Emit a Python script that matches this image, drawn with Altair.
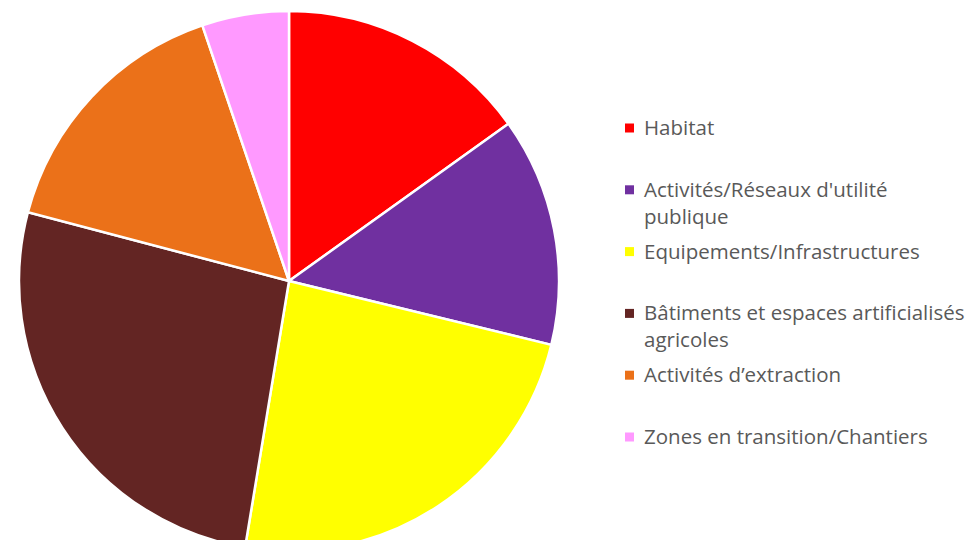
import altair as alt
import pandas as pd

categories = [
    "Habitat",
    "Activités/Réseaux d'utilité publique",
    "Equipements/Infrastructures",
    "Bâtiments et espaces artificialisés agricoles",
    "Activités d’extraction",
    "Zones en transition/Chantiers",
]
legend_labels = [
    "Habitat",
    "Activités/Réseaux d'utilité\npublique",
    "Equipements/Infrastructures",
    "Bâtiments et espaces artificialisés\nagricoles",
    "Activités d’extraction",
    "Zones en transition/Chantiers",
]
shares = [15.1, 13.7, 23.8, 26.5, 15.7, 5.2]
colors = ["#FF0000", "#7030A0", "#FFFF00", "#632523", "#EB7119", "#FF99FF"]

df = pd.DataFrame({
    "cat": categories,
    "label": legend_labels,
    "share": shares,
    "idx": list(range(len(categories))),
})

color_scale = alt.Scale(domain=categories, range=colors)

pie = alt.Chart(df).mark_arc(
    stroke="white", strokeWidth=2.5, radius=270
).encode(
    theta=alt.Theta("share:Q", stack=True),
    color=alt.Color("cat:N", scale=color_scale, legend=None),
    order=alt.Order("idx:Q"),
    x=alt.value(281),
    y=alt.value(273),
)

ypos = alt.Y("cat:N", sort=categories, scale=alt.Scale(type="point", range=[120, 429], padding=0), axis=None)

squares = alt.Chart(df).mark_point(shape="square", filled=True, size=81, opacity=1).encode(
    x=alt.value(621.5),
    y=ypos,
    color=alt.Color("cat:N", scale=color_scale, legend=None),
)

texts = alt.Chart(df).mark_text(
    align="left", baseline="alphabetic", dy=7, lineBreak="\n", lineHeight=27,
    font="Open Sans", fontSize=20.5, color="#595959",
).encode(
    x=alt.value(636),
    y=ypos,
    text="label:N",
)

chart = alt.layer(pie, squares, texts).resolve_scale(
    y="independent"
).properties(
    width=957, height=532, autosize=alt.AutoSizeParams(type="none"), padding=0
).configure_view(stroke=None)

chart.save("out.html", embed_options={"renderer": "svg", "actions": False})
